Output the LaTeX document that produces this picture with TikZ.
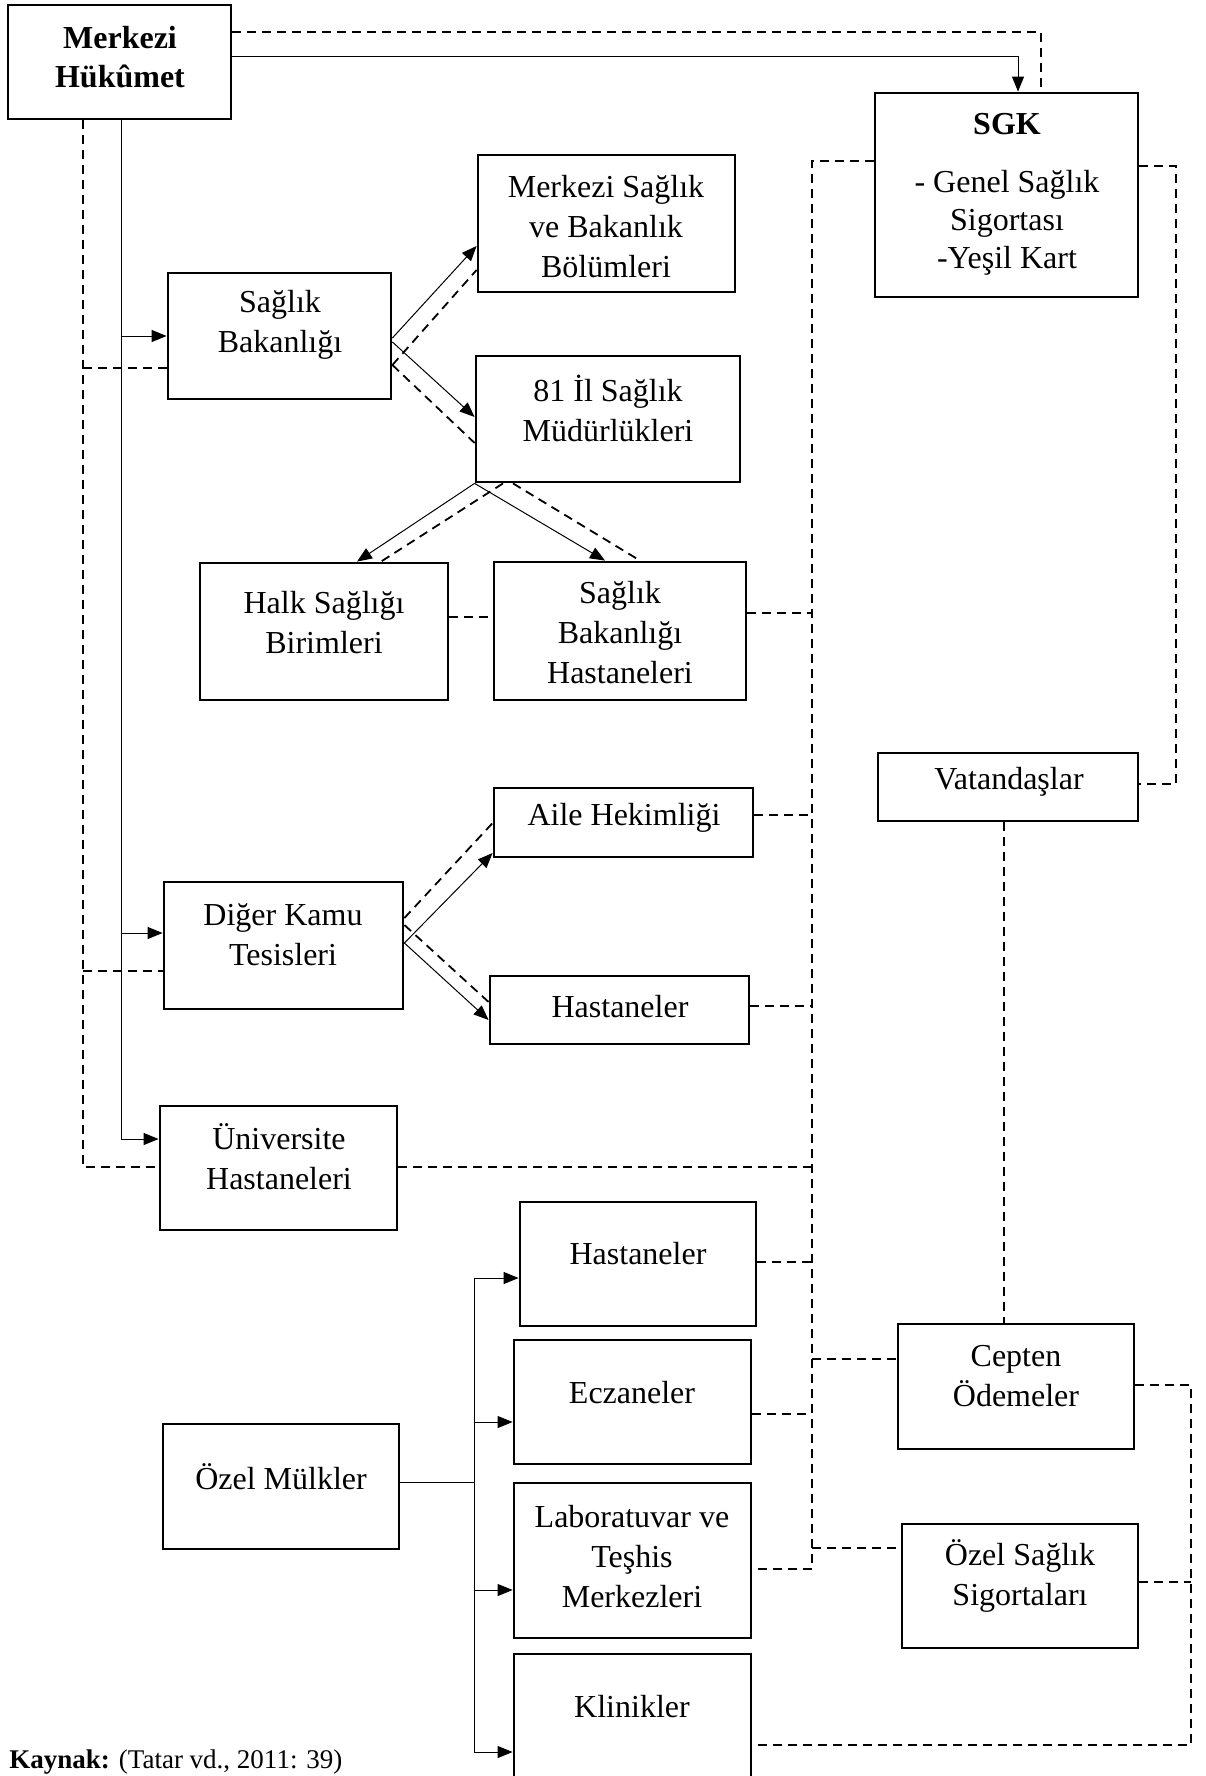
\documentclass[tikz,border=0pt]{standalone}
\usepackage{fontspec}
\setmainfont{Liberation Serif}
\usetikzlibrary{arrows.meta,fit}
\begin{document}
\begin{tikzpicture}[x=0.5pt,y=-0.5pt,
  box/.style={draw, line width=1.4pt, inner sep=0pt, fill=white},
  txt/.style={align=center, inner sep=0pt, font=\fontsize{16}{20}\selectfont},
  ln/.style={line width=0.5pt},
  arr/.style={line width=0.5pt, -{Triangle[length=7.5pt,width=6pt]}},
  dsh/.style={line width=0.9pt, dash pattern=on 4.5pt off 3pt},
]
\clip (0,0) rectangle (1205,1776);
% ---------- boxes ----------
\node[box, fit={(8,5) (231,119)}] (mh) {};
\node[box, fit={(875,93) (1138,297)}] (sgk) {};
\node[box, fit={(478,155) (735,292)}] (msb) {};
\node[box, fit={(168,273) (391,399)}] (sb) {};
\node[box, fit={(476,356) (740,482)}] (il) {};
\node[box, fit={(200,563) (448,700)}] (halk) {};
\node[box, fit={(494,562) (746,700)}] (sbh) {};
\node[box, fit={(494,788) (753,857)}] (ah) {};
\node[box, fit={(490,976) (749,1044)}] (hp) {};
\node[box, fit={(164,882) (403,1009)}] (dk) {};
\node[box, fit={(160,1106) (397,1230)}] (uh) {};
\node[box, fit={(878,753) (1138,821)}] (vat) {};
\node[box, fit={(520,1202) (756,1326)}] (ph) {};
\node[box, fit={(514,1340) (751,1464)}] (ecz) {};
\node[box, fit={(514,1483) (751,1638)}] (lab) {};
\node[box, fit={(514,1654) (751,1800)}] (kl) {};
\node[box, fit={(898,1324) (1134,1449)}] (ce) {};
\node[box, fit={(902,1524) (1138,1648)}] (oss) {};
\node[box, fit={(163,1424) (399,1549)}] (om) {};
% ---------- texts ----------
\node[txt, font=\fontsize{16}{19.5}\selectfont\bfseries] (t-mh) at (120,57) {Merkezi\\Hükûmet};
\node[txt, font=\fontsize{16}{19}\selectfont] (t-sgk) at (1007,194) {\textbf{SGK}\\[10pt]- Genel Sağlık\\Sigortası\\-Yeşil Kart};
\node[txt] (t-msb) at (606,227) {Merkezi Sağlık\\ve Bakanlık\\Bölümleri};
\node[txt] (t-sb) at (280,325) {Sağlık\\Bakanlığı};
\node[txt] (t-il) at (608,408) {81 İl Sağlık\\Müdürlükleri};
\node[txt] (t-halk) at (324,623) {Halk Sağlığı\\Birimleri};
\node[txt] (t-sbh) at (620,633) {Sağlık\\Bakanlığı\\Hastaneleri};
\node[txt] (t-ah) at (624,818) {Aile Hekimliği};
\node[txt] (t-dk) at (283,935) {Diğer Kamu\\Tesisleri};
\node[txt] (t-hp) at (620,1007) {Hastaneler};
\node[txt] (t-uh) at (279,1157) {Üniversite\\Hastaneleri};
\node[txt] (t-vat) at (1009,782) {Vatandaşlar};
\node[txt] (t-ph) at (638,1254) {Hastaneler};
\node[txt] (t-ecz) at (632,1393) {Eczaneler};
\node[txt] (t-lab) at (632,1557) {Laboratuvar ve\\Teşhis\\Merkezleri};
\node[txt] (t-kl) at (632,1707) {Klinikler};
\node[txt] (t-ce) at (1016,1376) {Cepten\\Ödemeler};
\node[txt] (t-oss) at (1020,1576) {Özel Sağlık\\Sigortaları};
\node[txt] (t-om) at (281,1477) {Özel Mülkler};
\node[inner sep=0pt, anchor=base west, font=\fontsize{13.5}{16}\selectfont] (src) at (9,1768) {\textbf{Kaynak:} (Tatar vd., 2011: 39)};
% ---------- top connectors ----------
\coordinate (tA) at (1041,32);
\coordinate (tB) at (1018,57);
\draw[dsh] (mh.east |- tA) -| (sgk.north -| tA);
\draw[arr] (mh.east |- tB) -| (sgk.north -| tB);
% ---------- left spines ----------
\coordinate (s1) at (121,336);
\coordinate (s2) at (121,933);
\coordinate (s3) at (121,1139);
\draw[ln] (mh.south -| s1) -- (s3);
\draw[arr] (s1) -- (s1 -| sb.west);
\draw[arr] (s2) -- (s2 -| dk.west);
\draw[arr] (s3) -- (s3 -| uh.west);
\coordinate (d1) at (83,368);
\coordinate (d2) at (83,971);
\coordinate (d3) at (83,1167);
\draw[dsh] (mh.south -| d1) |- (d3 -| uh.west);
\draw[dsh] (d1) -- (d1 -| sb.west);
\draw[dsh] (d2) -- (d2 -| dk.west);
% ---------- Saglik Bakanligi fan ----------
\draw[arr] (sb.east |- 0,338) -- (msb.west |- 0,246);
\draw[dsh] (sb.east |- 0,365) -- (msb.west |- 0,270);
\draw[arr] (sb.east |- 0,342) -- (il.west |- 0,417);
\draw[dsh] (sb.east |- 0,365) -- (il.west |- 0,443);
% ---------- 81 Il fan ----------
\draw[arr] (il.south west) -- (halk.north -| 357,0);
\draw[dsh] (il.south -| 503,0) -- (halk.north -| 381,0);
\draw[arr] (il.south west) -- (sbh.north -| 605,0);
\draw[dsh] (il.south -| 513,0) -- (sbh.north -| 640,0);
\draw[dsh] (halk.east |- 0,617) -- (sbh.west |- 0,617);
% ---------- Diger Kamu fan ----------
\draw[arr] (dk.east |- 0,943) -- (ah.west |- 0,853);
\draw[dsh] (dk.east |- 0,918) -- (ah.west |- 0,823);
\draw[arr] (dk.east |- 0,943) -- (hp.west |- 0,1020);
\draw[dsh] (dk.east |- 0,925) -- (hp.west |- 0,1002);
% ---------- vertical dashed collector ----------
\coordinate (v0) at (812,161);
\coordinate (v1) at (812,1569);
\draw[dsh] (sgk.west |- v0) -- (v0) -- (v1) -- (v1 -| lab.east);
\draw[dsh] (sbh.east |- 0,613) -- (v0 |- 0,613);
\draw[dsh] (ah.east |- 0,815) -- (v0 |- 0,815);
\draw[dsh] (hp.east |- 0,1006) -- (v0 |- 0,1006);
\draw[dsh] (uh.east |- d3) -- (v0 |- d3);
\draw[dsh] (ph.east |- 0,1262) -- (v0 |- 0,1262);
\draw[dsh] (ecz.east |- 0,1414) -- (v0 |- 0,1414);
\draw[dsh] (v0 |- 0,1359) -- (ce.west |- 0,1359);
\draw[dsh] (v0 |- 0,1548) -- (oss.west |- 0,1548);
% ---------- right side ----------
\coordinate (r0) at (1176,166);
\coordinate (r1) at (1176,784);
\draw[dsh] (sgk.east |- r0) -- (r0) -- (r1) -- (r1 -| vat.east);
\draw[dsh] (vat.south -| 1004,0) -- (ce.north -| 1004,0);
\coordinate (b0) at (1191,1385);
\coordinate (b1) at (1191,1745);
\draw[dsh] (ce.east |- b0) -- (b0) -- (b1) -- (b1 -| kl.east);
\draw[dsh] (oss.east |- 0,1582) -- (b0 |- 0,1582);
% ---------- Ozel Mulkler spine ----------
\coordinate (p0) at (474,1278);
\coordinate (p1) at (474,1422);
\coordinate (p2) at (474,1590);
\coordinate (p3) at (474,1752);
\coordinate (pm) at (474,1482);
\draw[ln] (om.east |- pm) -- (pm);
\draw[ln] (p0) -- (p3);
\draw[arr] (p0) -- (p0 -| ph.west);
\draw[arr] (p1) -- (p1 -| ecz.west);
\draw[arr] (p2) -- (p2 -| lab.west);
\draw[arr] (p3) -- (p3 -| kl.west);
\end{tikzpicture}
\end{document}
